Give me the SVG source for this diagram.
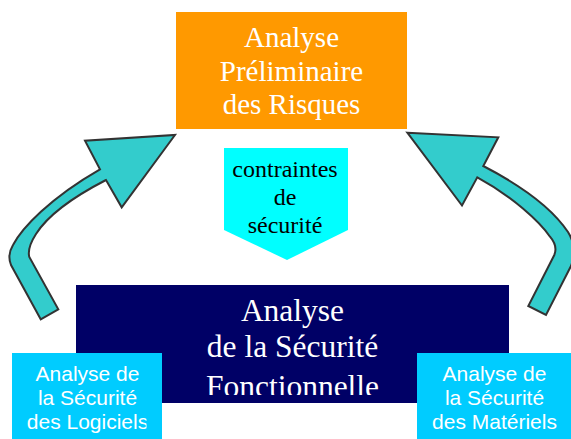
<svg xmlns="http://www.w3.org/2000/svg" width="571" height="439" viewBox="0 0 571 439">
<style>
.serif{font-family:"Liberation Serif","Times New Roman",serif;text-anchor:middle}
.sans{font-family:"Liberation Sans",Arial,sans-serif;text-anchor:middle;font-size:21px;fill:#fff}
.arrow{fill:#33CCCC;stroke:#333;stroke-width:2;stroke-linejoin:miter}
</style>
<defs>
<clipPath id="clipNavy"><rect x="76" y="285" width="433" height="110"/></clipPath>
<clipPath id="clipLeft"><rect x="12" y="353" width="134.5" height="86"/></clipPath>
</defs>
<rect width="571" height="439" fill="#fff"/>
<g id="connectors">
<path class="arrow" d="M40.7,319.3 L11,265 Q7,255 13,245 C22,228 50,198 100,169.3 L85,140.7 L175,135 L121.7,207.3 L106,180 C75,196 48,215 36,234 Q27,248 29.3,257 L58.3,309.3 Z"/>
<path class="arrow" d="M407.3,132.7 L498.3,137.3 L483.3,166 C520,185 552,208 568,232 Q578,248 571,266 L546,315 L528.3,306 L554.3,255 Q558,246 550,236.7 C540,222 512,196 477.3,177.3 L462,205.5 Z"/>
</g>
<g id="apr">
<rect x="176" y="12" width="231" height="117" fill="#FF9900"/>
<g class="serif" font-size="29" fill="#fff">
<text x="291.5" y="46.5">Analyse</text>
<text x="291.5" y="80.5">Préliminaire</text>
<text x="291.5" y="113.5">des Risques</text>
</g>
</g>
<g id="contraintes">
<polygon points="224,148 348,148 348,230 287,260 224,230" fill="#00FFFF"/>
<g class="serif" font-size="24" fill="#000">
<text x="285" y="177">contraintes</text>
<text x="285" y="205">de</text>
<text x="285" y="233">sécurité</text>
</g>
</g>
<g id="asf">
<rect x="76" y="285" width="433" height="118" fill="#000066"/>
<g class="serif" font-size="31.5" fill="#fff" clip-path="url(#clipNavy)">
<text x="292.5" y="321">Analyse</text>
<text x="292.5" y="357">de la Sécurité</text>
<text x="292.5" y="396.5">Fonctionnelle</text>
</g>
</g>
<g id="logiciels">
<rect x="12" y="353" width="150" height="86" fill="#00CCFF"/>
<g class="sans" clip-path="url(#clipLeft)">
<text x="87.5" y="381">Analyse de</text>
<text x="87.5" y="405">la Sécurité</text>
<text x="87.5" y="429">des Logiciels</text>
</g>
</g>
<g id="materiels">
<rect x="417" y="353" width="154" height="86" fill="#00CCFF"/>
<g class="sans">
<text x="494.5" y="381">Analyse de</text>
<text x="494.5" y="405">la Sécurité</text>
<text x="494.5" y="429">des Matériels</text>
</g>
</g>
</svg>
